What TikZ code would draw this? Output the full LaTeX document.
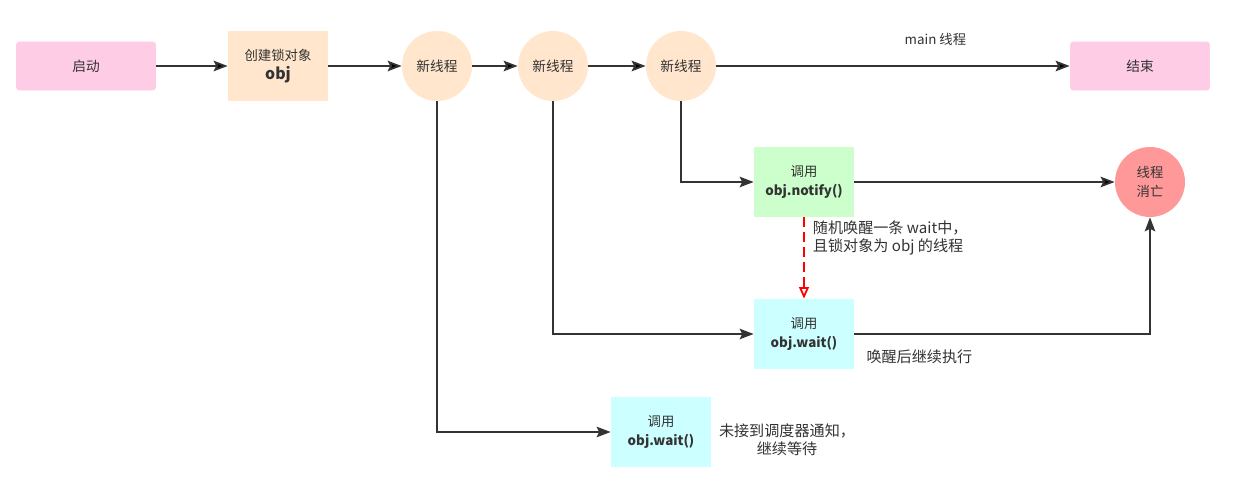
\documentclass[tikz,border=0pt]{standalone}
\usepackage{fontspec}
\setmainfont{Noto Sans CJK SC}
\usetikzlibrary{arrows.meta}

\definecolor{rosa}{HTML}{FFCCE6}
\definecolor{pfirsich}{HTML}{FFE6CC}
\definecolor{minze}{HTML}{CCFFCC}
\definecolor{eis}{HTML}{CCFFFF}
\definecolor{lachs}{HTML}{FF9999}
\definecolor{linie}{HTML}{333333}

\begin{document}
\begin{tikzpicture}[x=0.02cm, y=-0.02cm]
  \fill [white] (0, 0) rectangle (1242, 494);  % Rand wie im Original.
  \useasboundingbox (0, 0) rectangle (1242, 494);
  \tikzstyle{term}=[rectangle, rounded corners=2pt, fill=rosa, minimum width=2.8cm, minimum height=0.98cm, inner sep=0pt, text=linie, font=\fontsize{7.8}{11}\selectfont]
  \tikzstyle{box}=[rectangle, minimum width=2cm, minimum height=1.4cm, inner sep=0pt, align=center, text=linie, font=\fontsize{7.6}{11}\selectfont]
  \tikzstyle{thread}=[circle, fill=pfirsich, minimum width=1.4cm, inner sep=0pt, text=linie, font=\fontsize{7.8}{11}\selectfont]
  \tikzstyle{note}=[font=\fontsize{8.6}{10.2}\selectfont, text=linie]
  \tikzstyle{flow}=[draw=linie, line width=1pt, -{Stealth[length=8pt, width=6pt, inset=1.5pt]}]
  \tikzstyle{wake}=[draw=red, line width=1.5pt, dash pattern=on 5.5pt off 3pt, -{Triangle[open, line width=1pt, length=6.5pt, width=5.5pt]}]

  \node[term] (1) at (86, 66) {启动};
  \node[box, fill=pfirsich] (2) at (278, 66) {创建锁对象\\{\fontsize{9}{11}\selectfont\bfseries obj}};
  \node[thread] (3) at (437, 66) {新线程};
  \node[thread] (4) at (553, 66) {新线程};
  \node[thread] (5) at (681, 66) {新线程};
  \node[term] (6) at (1140, 66) {结束};

  \node[box, fill=minze] (7) at (804, 182) {调用\\\textbf{obj.notify()}};
  \node[circle, fill=lachs, minimum width=1.4cm, inner sep=0pt, align=center, text=linie, font=\fontsize{7.6}{11}\selectfont] (8) at (1150, 182) {线程\\消亡};
  \node[box, fill=eis] (9) at (804, 334) {调用\\\textbf{obj.wait()}};
  \node[box, fill=eis] (10) at (661, 432) {调用\\\textbf{obj.wait()}};
  \node[note, align=center] (11) at (787, 440) {未接到调度器通知，\\继续等待};

  \path[flow] (1) edge (2);
  \path[flow] (2) edge (3);
  \path[flow] (3) edge (4);
  \path[flow] (4) edge (5);
  \path[flow] (5) edge node[pos=0.62, yshift=15pt, font=\fontsize{7.6}{9}\selectfont, text=linie] {main 线程} (6);

  \draw[flow] (5.south) |- (7.west);
  \draw[flow] (4.south) |- (9.west);
  \draw[flow] (3.south) |- (10.west);
  \path[flow] (7) edge (8);
  \draw[flow] (9.east) -| node[pos=0.11, yshift=-13pt, note] {唤醒后继续执行} (8.south);

  \path[wake] (7) edge node[pos=0.25, anchor=west, xshift=1pt, note, align=left] {随机唤醒一条 wait中，\\且锁对象为 obj 的线程} (9);
\end{tikzpicture}
\end{document}
